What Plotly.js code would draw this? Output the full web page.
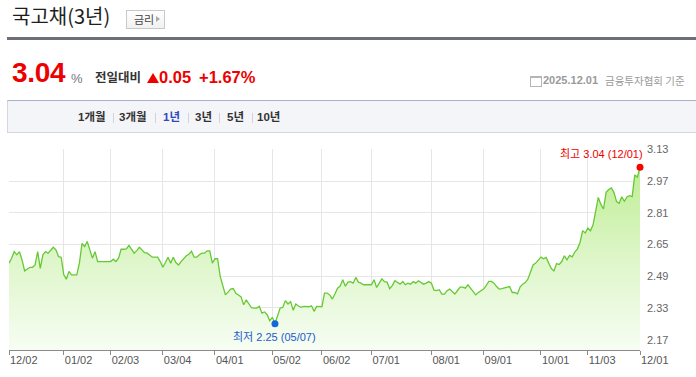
<!DOCTYPE html>
<html>
<head>
<meta charset="utf-8">
<script src="https://cdn.plot.ly/plotly-3.0.1.min.js"></script>
<style>
  html,body{margin:0;padding:0;background:#fff;}
  body{width:696px;height:377px;position:relative;overflow:hidden;font-family:"Liberation Sans","Noto Sans CJK KR",sans-serif;}
  .a{position:absolute;line-height:1;white-space:nowrap;}
  #chart{position:absolute;left:0;top:0;width:696px;height:377px;}
  .kr{font-family:"Noto Sans CJK KR",sans-serif;}
  .tab{position:absolute;top:112px;font-size:11.5px;font-weight:bold;color:#333;line-height:1;font-family:"Liberation Sans","Noto Sans CJK KR",sans-serif;}
  .sep{position:absolute;top:113px;width:1px;height:10px;background:#d3d3d8;}
</style>
</head>
<body>
<div id="chart"></div>

<div class="a kr" style="left:12px;top:6px;font-size:20px;color:#1e1e1e;">국고채(3년)</div>
<div class="a" style="left:126px;top:10px;width:37px;height:17px;border:1px solid #c9c9c9;background:linear-gradient(#ffffff,#f1f1f1);">
  <span class="a kr" style="left:7px;top:3px;font-size:11px;color:#444;">금리</span>
  <span class="a" style="left:29px;top:5px;width:0;height:0;border-top:3.5px solid transparent;border-bottom:3.5px solid transparent;border-left:4px solid #aaa;"></span>
</div>
<div class="a" style="left:7px;top:37px;width:689px;height:3px;background:#6d7079;"></div>

<div class="a" style="left:12px;top:59px;font-size:28px;font-weight:bold;color:#ee0000;letter-spacing:-0.3px;">3.04</div>
<div class="a" style="left:71px;top:72px;font-size:13px;color:#777;">%</div>
<div class="a kr" style="left:95px;top:71px;font-size:12.5px;font-weight:bold;color:#333;">전일대비</div>
<div class="a" style="left:147px;top:73px;width:0;height:0;border-left:6px solid transparent;border-right:6px solid transparent;border-bottom:10px solid #ee0000;"></div>
<div class="a" style="left:159px;top:69px;font-size:16.5px;font-weight:bold;color:#ee0000;">0.05</div>
<div class="a" style="left:199px;top:69px;font-size:16.5px;font-weight:bold;color:#ee0000;">+1.67%</div>

<div class="a" style="left:530px;top:76px;width:10px;height:8px;border:1px solid #b5b5b5;border-top:2px solid #b5b5b5;"></div>
<div class="a" style="left:543px;top:75px;font-size:11px;font-weight:bold;color:#9a9a9a;">2025.12.01</div>
<div class="a kr" style="left:605px;top:75.5px;font-size:10.5px;color:#9a9a9a;">금융투자협회 기준</div>

<div class="a" style="left:7px;top:100px;width:688px;height:31px;background:#f4f5f9;border-top:1px solid #aab0cc;border-bottom:1px solid #d4d6e0;border-left:1px solid #d4d6e0;"></div>
<span class="tab" style="left:78px;">1개월</span>
<span class="sep" style="left:113px;"></span>
<span class="tab" style="left:119px;">3개월</span>
<span class="sep" style="left:155px;"></span>
<span class="tab" style="left:163px;color:#2f4bb8;">1년</span>
<span class="sep" style="left:188px;"></span>
<span class="tab" style="left:195px;">3년</span>
<span class="sep" style="left:219px;"></span>
<span class="tab" style="left:227px;">5년</span>
<span class="sep" style="left:252px;"></span>
<span class="tab" style="left:257px;">10년</span>

<script>
// 국고채(3년) yields, one value per trading day from 2024-12-02 to 2025-12-01
const yields = [
2.556,2.581,2.614,2.598,2.614,2.572,2.517,2.525,2.535,2.535,
2.547,2.614,2.530,2.598,2.614,2.606,2.619,2.636,2.623,2.589,
2.586,2.497,2.475,2.514,2.497,2.497,2.497,2.556,2.656,2.640,
2.665,2.623,2.581,2.614,2.564,2.564,2.564,2.564,2.564,2.564,
2.576,2.564,2.581,2.626,2.626,2.628,2.646,2.623,2.606,2.619,
2.636,2.623,2.609,2.606,2.598,2.586,2.586,2.586,2.564,2.535,
2.559,2.586,2.556,2.586,2.559,2.547,2.564,2.581,2.593,2.601,
2.616,2.586,2.586,2.598,2.606,2.606,2.618,2.618,2.556,2.578,
2.578,2.489,2.438,2.396,2.410,2.425,2.428,2.404,2.395,2.386,
2.346,2.371,2.350,2.331,2.329,2.329,2.338,2.304,2.310,2.296,
2.266,2.283,2.250,2.287,2.330,2.333,2.367,2.350,2.362,2.318,
2.350,2.340,2.333,2.338,2.336,2.336,2.341,2.313,2.338,2.338,
2.336,2.405,2.405,2.396,2.375,2.400,2.430,2.440,2.472,2.440,
2.460,2.463,2.455,2.484,2.460,2.455,2.447,2.447,2.447,2.447,
2.472,2.433,2.455,2.477,2.463,2.460,2.427,2.443,2.467,2.460,
2.450,2.463,2.447,2.455,2.450,2.463,2.455,2.467,2.460,2.450,
2.455,2.463,2.455,2.420,2.418,2.422,2.400,2.400,2.417,2.425,
2.413,2.400,2.418,2.435,2.435,2.430,2.447,2.430,2.413,2.396,
2.408,2.418,2.425,2.442,2.464,2.464,2.455,2.438,2.425,2.427,
2.430,2.435,2.438,2.408,2.408,2.401,2.435,2.450,2.458,2.475,
2.514,2.547,2.556,2.569,2.586,2.578,2.585,2.556,2.529,2.517,
2.554,2.549,2.564,2.593,2.573,2.595,2.588,2.612,2.628,2.660,
2.720,2.708,2.733,2.719,2.749,2.818,2.887,2.852,2.829,2.913,
2.927,2.935,2.913,2.866,2.858,2.891,2.868,2.890,2.896,2.891,
3.001,2.990,3.040
];
// trading-day index of each labelled date
const tickDayIndex = [0,21,39,59,79,101,120,139,162,182,204,222,242];
const tickDates = ['12/02','01/02','02/03','03/04','04/01','05/02','06/02','07/01','08/01','09/01','10/01','11/03','12/01'];
const yTicks = [2.17,2.33,2.49,2.65,2.81,2.97,3.13];

const lowIdx = 102, lowLabel = '05/07';
const highIdx = 242, highLabel = '12/01';

const days = yields.map((_, i) => i);

const traces = [
  {
    x: days, y: yields, type: 'scatter', mode: 'lines',
    line: {color: '#66c934', width: 1.3},
    fill: 'tozeroy',
    fillgradient: {type: 'vertical', start: 2.118, stop: 3.13,
      colorscale: [[0, '#f7fdf3'], [0.45, '#def6ca'], [1, '#b9ec8a']]},
    hoverinfo: 'skip'
  },
  {
    x: [lowIdx, highIdx], y: [yields[lowIdx], yields[highIdx]],
    type: 'scatter', mode: 'markers', cliponaxis: false,
    marker: {size: 7, color: ['#1566d8', '#ff0000']},
    hoverinfo: 'skip'
  }
];

const layout = {
  width: 696, height: 377,
  margin: {l: 9, r: 56, t: 149, b: 27, pad: 0},
  paper_bgcolor: 'rgba(0,0,0,0)', plot_bgcolor: '#fff',
  showlegend: false,
  font: {family: '"Liberation Sans", "Noto Sans CJK KR", sans-serif', size: 11, color: '#555'},
  xaxis: {
    range: [0, 242], tickmode: 'array', tickvals: tickDayIndex, ticktext: tickDates,
    ticks: 'outside', ticklen: 4, tickcolor: '#8a8a8a', tickwidth: 1,
    showline: true, linecolor: '#8a8a8a', linewidth: 1,
    showgrid: true, gridcolor: '#e6e6e6', gridwidth: 1, zeroline: false,
    ticklabelposition: 'outside right',
    tickfont: {size: 11, color: '#555'}
  },
  yaxis: {
    side: 'right', range: [2.118, 3.1315], tickmode: 'array', tickvals: yTicks,
    tickformat: '.2f', ticks: '', showline: false, zeroline: false,
    showgrid: true, gridcolor: '#e6e6e6', gridwidth: 1,
    ticklabelstandoff: 6,
    tickfont: {size: 11, color: '#666'}
  },
  annotations: [
    {x: lowIdx, y: yields[lowIdx], xref: 'x', yref: 'y', showarrow: false,
     text: '최저 ' + yields[lowIdx].toFixed(2) + ' (' + lowLabel + ')',
     font: {size: 11, color: '#1a5bd1'}, xanchor: 'center', yanchor: 'middle', yshift: -13},
    {x: highIdx, y: yields[highIdx], xref: 'x', yref: 'y', showarrow: false,
     text: '최고 ' + yields[highIdx].toFixed(2) + ' (' + highLabel + ')',
     font: {size: 11, color: '#ee0000'}, xanchor: 'right', yanchor: 'middle', xshift: 5, yshift: 13}
  ]
};

Plotly.newPlot('chart', traces, layout, {displayModeBar: false, staticPlot: true});
</script>
</body>
</html>
